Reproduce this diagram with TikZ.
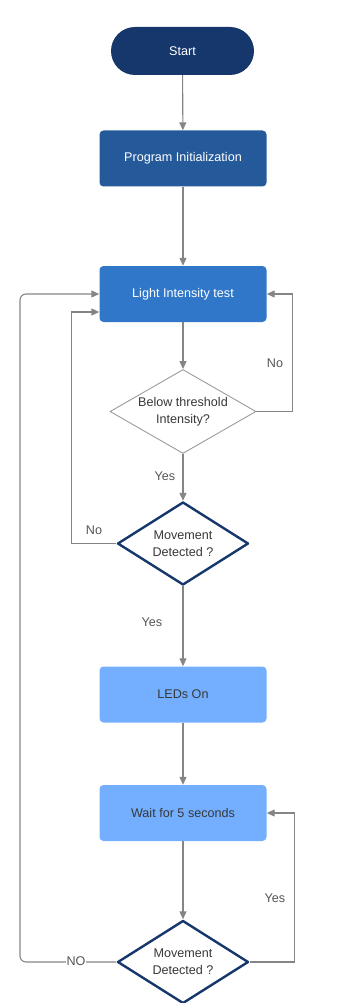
\documentclass[tikz,border=0pt]{standalone}
\usepackage{fontspec}
\setmainfont{Liberation Sans}
\usetikzlibrary{shapes.geometric,arrows.meta}
\definecolor{cStart}{HTML}{15376B}
\definecolor{cInit}{HTML}{255A9A}
\definecolor{cLight}{HTML}{3077CA}
\definecolor{cPale}{HTML}{74AFFF}
\definecolor{cLine}{HTML}{858585}
\definecolor{cLbl}{HTML}{555555}
\definecolor{cDark}{HTML}{383838}
\definecolor{cGray}{HTML}{9C9C9C}
\begin{document}
\begin{tikzpicture}[x=1pt,y=-1pt,
  font=\fontsize{12.6}{16.7}\selectfont,
  term/.style={rectangle, rounded corners=24pt, minimum width=143pt, minimum height=48pt, inner sep=0pt, fill=cStart, text=white},
  box/.style={rectangle, rounded corners=4pt, minimum width=167pt, minimum height=56pt, inner sep=0pt},
  dec/.style={diamond, inner sep=0pt, align=center, text=cDark},
  conn/.style={draw=cLine, line width=1.1pt, -{Triangle[length=8pt,width=7pt]}},
  plain/.style={draw=cLine, line width=1.1pt},
  lbl/.style={text=cLbl, inner sep=1pt}]
\useasboundingbox (0,0) rectangle (339,1003);
\node[term] (start) at (182.5,51) {Start};
\node[box, fill=cInit, text=white] (init) at (183,158.5) {Program Initialization};
\node[box, fill=cLight, text=white] (light) at (183,294) {Light Intensity test};
\node[dec, draw=cGray, line width=0.9pt, fill=white, minimum width=146pt, minimum height=84pt, aspect=1.74] (d1) at (183,411.5) {Below threshold\\Intensity?};
\node[dec, draw=cStart, line width=2.4pt, line join=round, fill=white, minimum width=131pt, minimum height=83pt, aspect=1.58] (d2) at (183,543.5) {Movement\\Detected ?};
\node[box, fill=cPale, text=cDark] (leds) at (183,694.5) {LEDs On};
\node[box, fill=cPale, text=cDark] (wait) at (183,813) {Wait for 5 seconds};
\node[dec, draw=cStart, line width=2.4pt, line join=round, fill=white, minimum width=131pt, minimum height=83pt, aspect=1.58] (d3) at (183,962) {Movement\\Detected ?};

\draw[conn] (start) -- (init);
\draw[conn] (init) -- (light);
\draw[conn] (light) -- (d1);
\draw[conn] (d1.east) -- ++(36,0) |- (light.east);
\draw[conn] (d1) -- (d2);
\draw[conn] (d2.west) -- ++(-44.5,0) |- ([yshift=-18pt]light.west);
\draw[conn] (d2) -- (leds);
\draw[conn] (leds) -- (wait);
\draw[conn] (wait) -- (d3);
\draw[conn] (d3.east) -- ++(45,0) |- (wait.east);
\draw[conn, rounded corners=6pt] (d3.west) -- (20,962) -- (20,294) -- (light.west);

\node[lbl] (lno1) at (275,363) {No};
\node[lbl] (lyes1) at (165,476) {Yes};
\node[lbl] (lno2) at (94,530) {No};
\node[lbl] (lyes2) at (152,622) {Yes};
\node[lbl] (lyes3) at (275,898) {Yes};
\node[lbl, fill=white, inner sep=0.5pt] (lno3) at (76,961) {NO};
\end{tikzpicture}
\end{document}
